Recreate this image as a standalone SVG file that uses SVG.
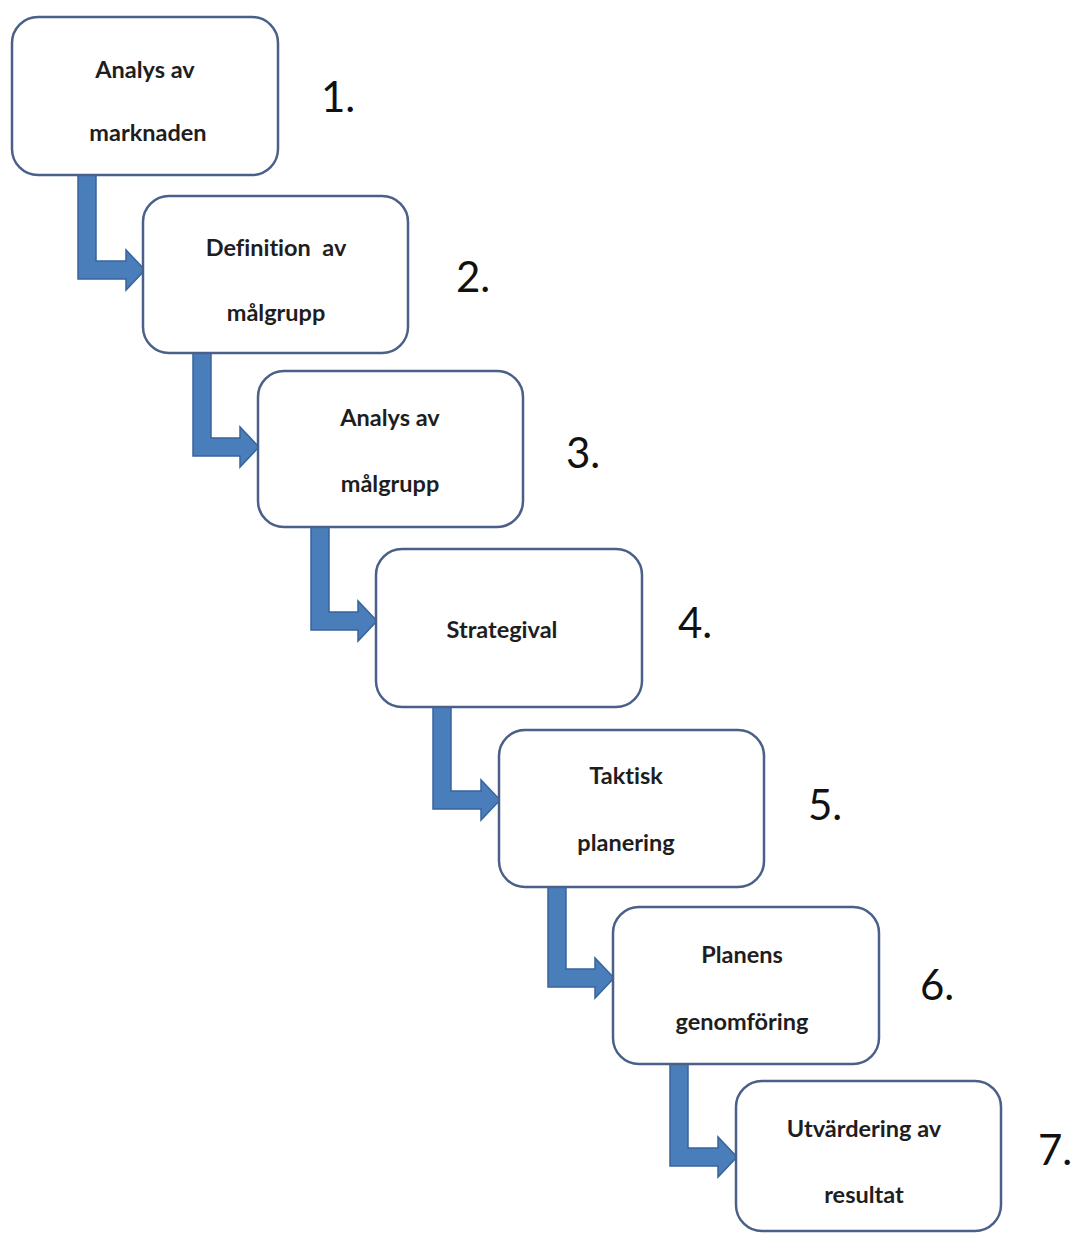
<svg xmlns="http://www.w3.org/2000/svg" width="1077" height="1234" viewBox="0 0 1077 1234">
<style>
.box{fill:#ffffff;stroke:#4a6088;stroke-width:2.5}
.arr{fill:#4a7ebb;stroke:#37649c;stroke-width:1.5;stroke-linejoin:miter}
.t{font-family:Lato,"Open Sans","Liberation Sans",sans-serif;font-weight:bold;font-size:23.5px;fill:#1e1e1e;text-anchor:middle;white-space:pre;font-variant-ligatures:none;font-feature-settings:"liga" 0,"dlig" 0}
.n{font-family:Lato,"Open Sans","Liberation Sans",sans-serif;font-size:42px;fill:#111111}
</style>
<rect width="1077" height="1234" fill="#ffffff"/>
<g id="connectors">
<path class="arr" d="M78,175 L96,175 L96,261 L126,261 L126,250 L145,270 L126,290 L126,279 L78,279 Z"/>
<path class="arr" d="M193,353 L211,353 L211,438 L240,438 L240,427 L259,447 L240,467 L240,456 L193,456 Z"/>
<path class="arr" d="M311,527 L329,527 L329,612 L358,612 L358,601 L377,621 L358,641 L358,630 L311,630 Z"/>
<path class="arr" d="M433,707 L451,707 L451,791 L481,791 L481,780 L500,800 L481,820 L481,809 L433,809 Z"/>
<path class="arr" d="M548,887 L566,887 L566,969 L595,969 L595,958 L614,978 L595,998 L595,987 L548,987 Z"/>
<path class="arr" d="M670,1064 L688,1064 L688,1148 L718,1148 L718,1137 L737,1157 L718,1177 L718,1166 L670,1166 Z"/>
</g>
<g id="node1">
<rect class="box" x="12" y="17" width="266" height="158" rx="26"/>
<text class="t" x="145" y="78">Analys av</text>
<text class="t" x="148" y="141">marknaden</text>
<text class="n" x="321" y="112">1.</text>
</g>
<g id="node2">
<rect class="box" x="143" y="196" width="265" height="157" rx="26"/>
<text class="t" x="276" y="256" xml:space="preserve">Definition  av</text>
<text class="t" x="276" y="321">målgrupp</text>
<text class="n" x="456" y="292">2.</text>
</g>
<g id="node3">
<rect class="box" x="258" y="371" width="265" height="156" rx="26"/>
<text class="t" x="390" y="426">Analys av</text>
<text class="t" x="390" y="492">målgrupp</text>
<text class="n" x="566" y="468">3.</text>
</g>
<g id="node4">
<rect class="box" x="376" y="549" width="266" height="158" rx="26"/>
<text class="t" x="502" y="638">Strategival</text>
<text class="n" x="678" y="638">4.</text>
</g>
<g id="node5">
<rect class="box" x="499" y="730" width="265" height="157" rx="26"/>
<text class="t" x="626" y="784">Taktisk</text>
<text class="t" x="626" y="851">planering</text>
<text class="n" x="808" y="820">5.</text>
</g>
<g id="node6">
<rect class="box" x="613" y="907" width="266" height="157" rx="26"/>
<text class="t" x="742" y="963">Planens</text>
<text class="t" x="742" y="1030">genomföring</text>
<text class="n" x="920" y="1000">6.</text>
</g>
<g id="node7">
<rect class="box" x="736" y="1081" width="265" height="150" rx="26"/>
<text class="t" x="864" y="1137">Utvärdering av</text>
<text class="t" x="864" y="1203">resultat</text>
<text class="n" x="1038" y="1165">7.</text>
</g>
</svg>
